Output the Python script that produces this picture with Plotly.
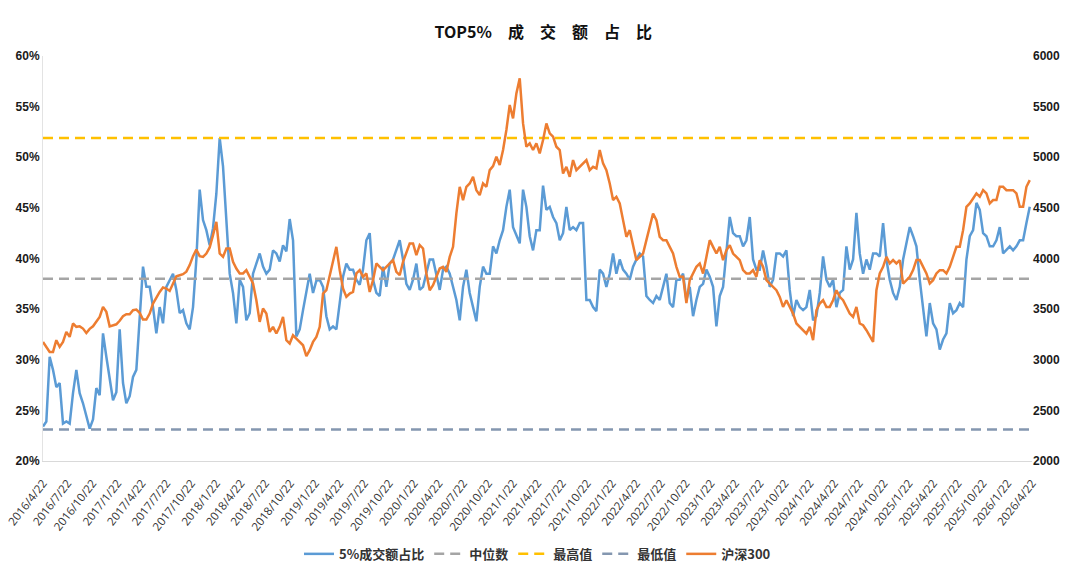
import numpy as np
import pandas as pd
import plotly.graph_objects as go

# ---- data ----
start_date = "2016-04-22"
step_days = 12.31  # spacing of the sampled observations

top5_share = [  # TOP5% turnover share, %
    23.4, 23.9, 30.3, 29.0, 27.3, 27.7, 23.7, 23.9, 23.7, 26.7,
    29.0, 26.7, 25.7, 24.4, 23.2, 24.1, 27.2, 26.5, 32.6, 30.3,
    28.0, 26.0, 26.8, 33.0, 27.7, 25.7, 26.4, 28.3, 29.0, 34.6,
    39.2, 37.2, 37.2, 35.2, 32.6, 35.2, 33.6, 37.2, 37.9, 38.5,
    36.9, 34.6, 34.9, 33.6, 33.0, 35.2, 39.9,
    46.8, 43.8, 42.8, 41.3, 43.0, 46.4, 51.9, 49.1, 44.1, 38.5,
    36.6, 33.6, 37.9, 37.2, 33.9, 34.6, 38.5, 39.5, 40.5, 39.2,
    38.5, 38.9, 40.8, 40.5, 39.7, 41.3, 40.7, 43.9, 41.8, 32.3,
    33.0, 34.9, 36.6, 38.5, 36.6, 37.8, 37.9, 37.2, 34.3, 33.0,
    33.3, 33.0, 35.6, 38.2, 39.5, 38.9, 38.9, 37.9,
    37.4, 38.9, 41.8, 42.5, 37.9, 36.6, 36.3, 39.2, 37.2, 39.5,
    39.9, 40.8, 41.8, 39.9, 37.5, 36.9, 37.9, 39.5, 36.9, 37.2,
    38.5, 39.9, 39.9, 38.5, 36.9, 38.9, 39.2, 38.5, 37.2, 35.9,
    33.9, 37.2, 38.9, 36.6, 35.2, 33.8, 37.2, 39.2, 38.5, 38.5,
    41.2, 40.5, 41.8, 42.8, 45.1, 46.8, 43.1, 42.2,
    41.5, 46.8, 45.1, 42.2, 40.8, 42.8, 42.8, 47.2, 44.8, 45.1,
    44.1, 43.5, 41.8, 42.5, 45.1, 42.8, 43.1, 42.8, 43.5, 43.5,
    35.9, 35.9, 35.2, 34.8, 38.9, 38.5, 37.2, 38.5, 40.5, 38.5,
    39.9, 38.9, 38.5, 37.9, 39.2, 39.9, 40.5, 40.2, 36.3, 35.9,
    35.6, 36.3, 35.9, 37.2, 38.5, 35.6, 35.2, 37.9,
    37.9, 38.5, 35.9, 37.2, 34.3, 35.9, 37.2, 37.5, 38.9, 38.2,
    37.2, 33.3, 36.3, 37.2, 40.5, 44.1, 42.5, 42.2, 42.2, 41.2,
    41.8, 44.1, 39.9, 38.9, 38.9, 40.8, 39.2, 37.2, 37.9, 40.5,
    40.5, 40.2, 40.8, 36.9, 34.3, 35.9, 35.2, 34.9, 35.2, 36.9,
    33.9, 34.3, 36.6, 40.2, 37.9, 37.2, 37.9, 35.2,
    36.6, 36.9, 41.2, 38.9, 39.9, 44.5, 40.5, 38.5, 39.9, 38.9,
    40.5, 40.5, 40.2, 43.5, 39.9, 37.9, 36.6, 35.9, 37.2, 39.9,
    41.5, 43.1, 42.2, 41.2, 37.9, 35.2, 32.3, 35.6, 33.6, 33.0,
    31.0, 32.0, 32.6, 35.6, 34.6, 34.9, 35.6, 35.2, 39.9, 42.2,
    42.8, 45.5, 44.8, 42.5, 42.2, 41.2, 41.2, 41.8, 43.1, 40.5,
    40.8, 41.2, 40.8, 41.2, 41.8, 41.8, 43.5, 45.1,
]

csi300 = [  # 沪深300 index level
    3176, 3127, 3077, 3077, 3193, 3127, 3176, 3275, 3226, 3358,
    3325, 3330, 3308, 3265, 3305, 3330, 3374, 3423, 3522, 3473,
    3330, 3340, 3350, 3385, 3430, 3450, 3450, 3490, 3495, 3463,
    3397, 3397, 3456, 3555, 3620, 3670, 3713, 3703, 3680, 3753,
    3825, 3835, 3845, 3870, 3935, 4023, 4089,
    4023, 4016, 4049, 4109, 4231, 4362, 4049, 4016, 4099, 4099,
    3967, 3901, 3852, 3852, 3885, 3812, 3753, 3588, 3374, 3506,
    3456, 3275, 3325, 3259, 3325, 3423, 3193, 3160, 3242, 3209,
    3176, 3143, 3035, 3094, 3176, 3226, 3325, 3654, 3687, 3835,
    3951, 4115, 3885, 3703, 3621, 3654, 3670, 3852,
    3885, 3819, 3852, 3670, 3786, 3951, 3918, 3885, 3918, 3951,
    3984, 3868, 3835, 3967, 4049, 4148, 4148, 4033, 4132, 4099,
    3852, 3687, 3736, 3819, 3901, 3918, 3868, 4016, 4115, 4445,
    4708, 4577, 4708, 4741, 4807, 4675, 4626, 4741, 4708, 4873,
    4913, 5005, 4923, 5071, 5269, 5516, 5384, 5631,
    5779, 5334, 5104, 5137, 5071, 5137, 5038, 5170, 5334, 5236,
    5203, 5104, 5071, 4840, 4906, 4807, 4972, 4873, 4906, 4939,
    4972, 4873, 4906, 4890, 5071, 4939, 4873, 4741, 4577, 4610,
    4544, 4379, 4214, 4280, 4115, 3984, 4016, 4049, 4181, 4313,
    4445, 4379, 4214, 4181, 4181, 4115, 4049, 3918,
    3819, 3819, 3560, 3786, 3852, 3918, 3951, 3852, 4016, 4181,
    4115, 4049, 4115, 3984, 4082, 4132, 4049, 4016, 3984, 3885,
    3852, 3852, 3885, 3819, 3984, 3918, 3786, 3753, 3720, 3687,
    3621, 3522, 3588, 3522, 3456, 3358, 3325, 3292, 3259, 3325,
    3193, 3489, 3555, 3588, 3522, 3522, 3588, 3687,
    3621, 3588, 3522, 3456, 3423, 3522, 3358, 3341, 3292, 3226,
    3176, 3687, 3852, 3918, 4016, 3951, 3984, 3951, 3984, 3753,
    3786, 3819, 3885, 3984, 3984, 3918, 3852, 3753, 3786, 3852,
    3885, 3885, 3852, 3918, 4016, 4115, 4115, 4280, 4511, 4544,
    4593, 4643, 4610, 4675, 4643, 4544, 4577, 4577, 4708, 4708,
    4675, 4675, 4675, 4643, 4511, 4511, 4708, 4774,
]

median_level = 38.0
max_level = 51.9
min_level = 23.1

tick_labels = [f"{y}/{m}/22" for y in range(2016, 2027) for m in (1, 4, 7, 10)
               if not (y == 2016 and m == 1) and not (y == 2026 and m > 4)]
tick_dates = [pd.Timestamp(int(t.split("/")[0]), int(t.split("/")[1]), 22) for t in tick_labels]

series_names = ["5%成交额占比", "中位数", "最高值", "最低值", "沪深300"]
colors = ["#5B9BD5", "#A5A5A5", "#FFC000", "#8497B0", "#ED7D31"]
title_text = "TOP5%\u2003成\u2003交\u2003额\u2003占\u2003比"

# ---- figure ----
n = len(top5_share)
dates = pd.Timestamp(start_date) + pd.to_timedelta(np.arange(n) * step_days, unit="D")

fig = go.Figure()
fig.add_trace(go.Scatter(x=dates, y=top5_share, name=series_names[0], mode="lines",
                         line=dict(color=colors[0], width=2.5)))
for name, lvl, col in zip(series_names[1:4], [median_level, max_level, min_level], colors[1:4]):
    fig.add_trace(go.Scatter(x=[dates[0], dates[-1]], y=[lvl, lvl], name=name, mode="lines",
                             line=dict(color=col, width=2.5, dash="10px,6px")))
fig.add_trace(go.Scatter(x=dates, y=csi300, name=series_names[4], mode="lines", yaxis="y2",
                         line=dict(color=colors[4], width=2.5)))

tick_font = dict(family="Liberation Sans, Arial, sans-serif", size=12, color="#1a1a1a", weight="bold")

fig.update_layout(
    width=1080, height=574,
    paper_bgcolor="white", plot_bgcolor="white",
    margin=dict(l=43, r=48, t=56, b=113, autoexpand=False),
    title=dict(text=title_text, x=0.503, xref="container", y=0.944, yanchor="middle",
               font=dict(family="Noto Sans CJK SC, sans-serif", size=16, color="#111111", weight="bold")),
    xaxis=dict(type="date", range=[pd.Timestamp("2016-04-22"), pd.Timestamp("2026-04-22")],
               tickvals=tick_dates, ticktext=tick_labels, tickangle=-52, automargin=False,
               ticklabelstandoff=10, ticklabeloverflow="allow",
               tickfont=dict(family="Open Sans, sans-serif", size=11.5, color="#333333"),
               showgrid=False, showline=True, linecolor="#D9D9D9", linewidth=1, ticks="", zeroline=False),
    yaxis=dict(range=[20, 60], dtick=5, ticksuffix="%", tickfont=tick_font, automargin=False,
               showgrid=False, showline=True, linecolor="#E3E3E3", linewidth=1, zeroline=False, ticks=""),
    yaxis2=dict(range=[2000, 6000], dtick=500, overlaying="y", side="right", tickfont=tick_font,
                automargin=False,
                showgrid=False, showline=False, zeroline=False, ticks=""),
    legend=dict(orientation="h", x=0.5, xanchor="center", yref="container", y=0.035, yanchor="middle",
                font=dict(family="Noto Sans CJK SC, sans-serif", size=13, color="#333333", weight="bold"),
                itemwidth=30),
    showlegend=True,
)

fig.write_html("out.html")
